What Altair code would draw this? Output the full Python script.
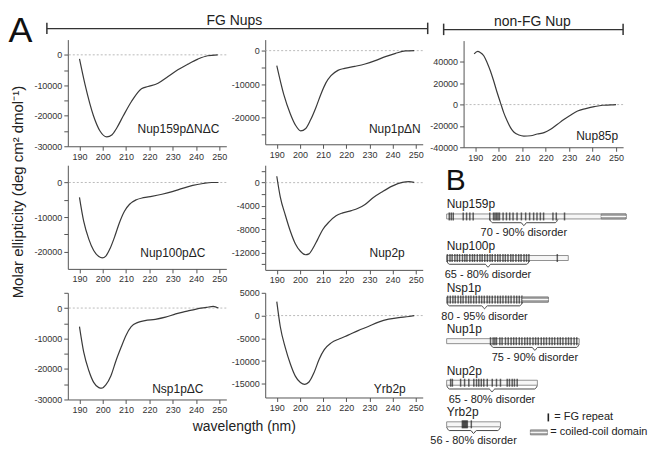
import json
import altair as alt
import pandas as pd

FONT = "Liberation Sans"

# ---------------- CD spectra (wavelength nm, ellipticity) ----------------
nup159_wl = [190, 192.4, 196, 198.8, 201.7, 204, 206, 208.8, 212.3, 216.6, 219.4, 223.7, 228, 232.2, 236.5, 240.8, 245, 249.3]
nup159_val = [-1300, -9800, -20000, -25000, -26900, -26200, -24000, -20000, -15300, -11100, -10400, -9300, -7100, -4900, -3050, -1400, -300, 0]

nup1_wl = [190, 193, 195.9, 198.1, 200.3, 202.5, 204.6, 206.9, 209, 211.2, 213.4, 216.4, 219.3, 223.7, 228.1, 232.5, 236.9, 241.3, 245.6, 249.3]
nup1_val = [-4500, -13100, -19000, -22300, -24000, -23300, -20700, -17000, -13100, -9650, -7500, -5900, -5300, -4700, -4000, -3000, -1800, -800, -100, 0]

nup85_wl = [189.5, 191, 192.1, 193.6, 195, 196.4, 197.9, 199.3, 200.7, 202.1, 203.6, 205, 206.4, 208.6, 210.7, 213.6, 216.4, 219.3, 222.1, 225, 227.9, 230.7, 233.6, 237.1, 240.7, 244.3, 247.9, 250]
nup85_val = [47500, 49800, 48900, 45800, 39500, 31700, 21600, 11300, 1900, -7500, -15400, -21600, -25700, -28500, -29500, -29200, -27600, -26300, -23200, -18500, -13800, -9700, -6000, -3800, -1900, -600, -300, 0]

nup100_wl = [190, 191.8, 194, 196.1, 198.3, 199.8, 201.3, 203.2, 205.2, 207.1, 209.3, 211.5, 214.4, 217.4, 221, 225.4, 229.8, 234.2, 238.6, 243, 246.7, 249.6]
nup100_val = [-4300, -11200, -16400, -19700, -21400, -21800, -21300, -19000, -15500, -11700, -8300, -6300, -5000, -4400, -4000, -3400, -2650, -1700, -850, -300, 0, 0]

nup2_wl = [190, 191.5, 193.7, 195.9, 198, 200.2, 202.4, 203.9, 205.3, 207.6, 209.8, 212.7, 215.6, 218.5, 222.2, 225.1, 228.1, 231.7, 235.4, 239.8, 244.2, 247.1, 249.3]
nup2_val = [1100, -2450, -5600, -8400, -10500, -11800, -12400, -12250, -11500, -9800, -8100, -6700, -5700, -5200, -4800, -4400, -3750, -2550, -1600, -600, 50, 170, 50]

nsp1_wl = [190, 191.8, 194, 196.1, 198.3, 199.5, 201.3, 203.5, 205.7, 207.9, 210, 212.2, 215.1, 218.1, 222.5, 226.9, 231.3, 235.7, 240.1, 244.5, 247.4, 249.6]
nsp1_val = [-6100, -14400, -20500, -24400, -26100, -26300, -25200, -22200, -17200, -12800, -8900, -6100, -4700, -4100, -3700, -3000, -1900, -1100, -330, 200, 550, 0]

yrb2_wl = [190, 191.5, 193.7, 195.9, 198, 200.2, 202.1, 203.9, 206.1, 208.3, 210.5, 213.5, 217.1, 220.8, 225.1, 229.5, 233.9, 238.3, 242.7, 247.1, 249.3]
yrb2_val = [3050, -2400, -7100, -10700, -13300, -14700, -15100, -14600, -12500, -9600, -7500, -6000, -5100, -4300, -3300, -2400, -1450, -800, -450, -200, 0]

x_ticks = [190, 200, 210, 220, 230, 240, 250]

# ---------------- panel B schematic (residue positions) ----------------
b_names = ["Nup159p", "Nup100p", "Nsp1p", "Nup1p", "Nup2p", "Yrb2p"]
b_length = [1440, 976, 816, 1064, 728, 432]
b_dis_start = [346, 0, 0, 352, 0, 0]
b_dis_end = [893, 664, 608, 1064, 728, 432]
b_dis_label = ["70 - 90% disorder", "65 - 80% disorder", "80 - 95% disorder",
               "75 - 90% disorder", "65 - 80% disorder", "56 - 80% disorder"]
b_cc = {"Nup159p": (1240, 1440), "Nsp1p": (608, 816)}
b_fg = {
    "Nup159p": [21, 37, 53, 133, 160, 186, 213, 346, 376, 388, 400, 412, 424, 453, 480, 506, 533,
                565, 600, 634, 666, 698, 725, 752, 778, 853, 880, 946],
    "Nup100p": [6, 27, 44, 66, 85, 104, 127, 146, 163, 186, 207, 224, 246, 267, 285, 306, 327, 348,
                366, 389, 410, 429, 452, 471, 492, 515, 533, 556, 578, 597, 621, 641, 660, 888],
    "Nsp1p": [8, 29, 50, 69, 92, 113, 132, 155, 176, 195, 217, 238, 261, 281, 302, 325, 344, 366,
              389, 410, 431, 452, 475, 496, 517, 541, 562, 583, 604],
    "Nup1p": [352, 373, 387, 400, 427, 445, 472, 494, 517, 538, 559, 583, 604, 627, 648, 669, 693,
              714, 735, 759, 780, 801, 825, 846, 867, 891, 912, 933, 957, 978, 999, 1023, 1044],
    "Nup2p": [32, 46, 112, 144, 178, 218, 240, 258, 278, 298, 326, 366, 400, 432, 486, 504, 526, 544, 566],
    "Yrb2p": [126, 134, 142, 150, 158, 166, 198],
}

one = pd.DataFrame({"k": [0]})


def label_expr(labels, blank=None):
    e = f"indexof({json.dumps(labels)}, datum.value) >= 0 ? '' + datum.value : ''"
    if blank is not None:
        e = f"datum.value == {blank} ? ' ' : ({e})"
    return e


def panel(wl, val, ydom, yticks, ylabels, name, lx, ly, w, h, blank=None):
    df = pd.DataFrame({"wl": wl, "v": val})
    xs = alt.Scale(domain=[185, 253], nice=False, zero=False)
    ys = alt.Scale(domain=ydom, nice=False, zero=False)
    xa = alt.Axis(values=x_ticks, labelExpr="'' + datum.value", title=None)
    ya = alt.Axis(values=yticks, labelExpr=label_expr(ylabels, blank), title=None)
    zero = alt.Chart(pd.DataFrame({"z": [0]})).mark_rule(
        color="#aaaaaa", strokeDash=[2, 2], strokeWidth=0.8
    ).encode(y=alt.Y("z:Q", scale=ys, axis=ya))
    line = alt.Chart(df).mark_line(color="#3a3a3a", strokeWidth=1.2, interpolate="monotone").encode(
        x=alt.X("wl:Q", scale=xs, axis=xa),
        y=alt.Y("v:Q", scale=ys, axis=ya),
    )
    lab = alt.Chart(pd.DataFrame({"t": [name]})).mark_text(
        align="right", baseline="alphabetic", fontSize=12, font=FONT, color="#222"
    ).encode(x=alt.value(lx), y=alt.value(ly), text="t:N")
    return alt.layer(zero, line, lab).properties(width=w, height=h)


p1 = panel(nup159_wl, nup159_val, [-30000, 5000], list(range(-30000, 1, 5000)),
           [0, -10000, -20000, -30000], "Nup159p\u0394N\u0394C", 152, 94, 159, 107)
p2 = panel(nup1_wl, nup1_val, [-28000, 3300], list(range(-25000, 1, 5000)),
           [0, -10000, -20000], "Nup1p\u0394N", 156, 94, 158, 105)
p3 = panel(nup85_wl, nup85_val, [-40000, 60000], [-40000, -20000, 0, 20000, 40000],
           [-40000, -20000, 0, 20000, 40000], "Nup85p", 155, 100, 160, 107)
p4 = panel(nup100_wl, nup100_val, [-25000, 5000], list(range(-20000, 1, 5000)),
           [0, -10000, -20000], "Nup100p\u0394C", 138, 92, 159, 104)
p5 = panel(nup2_wl, nup2_val, [-15000, 3000], list(range(-14000, 2001, 2000)),
           [0, -4000, -8000, -12000], "Nup2p", 140, 92, 158, 105)
p6 = panel(nsp1_wl, nsp1_val, [-30000, 5000], list(range(-30000, 5001, 5000)),
           [0, -10000, -20000, -30000], "Nsp1p\u0394C", 136, 101, 159, 107, blank=5000)
p7 = panel(yrb2_wl, yrb2_val, [-18000, 5000], [-15000, -10000, -5000, 0, 5000],
           [-15000, -10000, -5000, 0, 5000], "Yrb2p", 141, 100, 158, 105)

# ---------------- headers / titles ----------------
def bracket(x0, x1, ly, c0, c1, text, tx, ty, w, h):
    base = alt.Chart(one)
    ln = base.mark_rule(color="#333", strokeWidth=1.5).encode(
        x=alt.value(x0), x2=alt.value(x1), y=alt.value(ly))
    cap0 = base.mark_rule(color="#333", strokeWidth=1.5).encode(
        x=alt.value(x0), y=alt.value(c0), y2=alt.value(c1))
    cap1 = base.mark_rule(color="#333", strokeWidth=1.5).encode(
        x=alt.value(x1), y=alt.value(c0), y2=alt.value(c1))
    txt = alt.Chart(pd.DataFrame({"t": [text]})).mark_text(
        fontSize=14, font=FONT, color="#222", align="center", baseline="alphabetic"
    ).encode(x=alt.value(tx), y=alt.value(ty), text="t:N")
    return alt.layer(ln, cap0, cap1, txt).properties(width=w, height=h)


# the columns line up their plot origins, so header positions are relative to the plot origin
header1 = bracket(-21, 361, 20, 14, 25.5, "FG Nups", 167, 16, 354, 26)
header2 = bracket(-20, 160, 21, 15, 26.5, "non-FG  Nup", 69, 17, 160, 27)

strip_a = alt.Chart(pd.DataFrame({"t": ["A"]})).mark_text(
    fontSize=36, font=FONT, color="#111", align="left", baseline="alphabetic"
).encode(x=alt.value(0.5), y=alt.value(33), text="t:N")
strip_t = alt.Chart(pd.DataFrame({"t": ["Molar  ellipticity  (deg cm\u00b2 dmol\u207b\u00b9)"]})).mark_text(
    fontSize=15, font=FONT, color="#222", align="center", baseline="middle", angle=270
).encode(x=alt.value(10), y=alt.value(184), text="t:N")
strip = alt.layer(strip_a, strip_t).properties(width=24, height=430)

footer = alt.Chart(pd.DataFrame({"t": ["wavelength  (nm)"]})).mark_text(
    fontSize=14, font=FONT, color="#222", align="center", baseline="middle"
).encode(x=alt.value(177), y=alt.value(9), text="t:N").properties(width=354, height=20)

# ---------------- panel B ----------------
BW, BH = 192, 288
px_row = 43.2
d0 = -46 / px_row
bx = alt.Scale(domain=[136, 136 + 8 * BW], nice=False, zero=False)
by = alt.Scale(domain=[d0, d0 + BH / px_row], nice=False, zero=False, reverse=True)

rows = pd.DataFrame({
    "name": b_names, "row": list(range(len(b_names))), "start": [0] * len(b_names),
    "length": b_length, "ds": b_dis_start, "de": b_dis_end, "label": b_dis_label,
})
rows["center"] = (rows["ds"] + rows["de"]) / 2

fg = pd.DataFrame([{"name": n, "row": b_names.index(n), "pos": p} for n in b_names for p in b_fg[n]])
cc = pd.DataFrame([{"name": n, "row": b_names.index(n), "s": v[0], "e": v[1]} for n, v in b_cc.items()])

u = 1 / px_row
brace_pts = []
for i, r in rows.iterrows():
    s, e, m, rr = r["ds"], r["de"], r["center"], r["row"]
    dd = 22
    pts = [(s, rr + 3 * u), (s + dd, rr + 6.5 * u), (m - dd, rr + 6.5 * u), (m, rr + 9.5 * u),
           (m + dd, rr + 6.5 * u), (e - dd, rr + 6.5 * u), (e, rr + 3 * u)]
    for k, (xx, yy) in enumerate(pts):
        brace_pts.append({"name": r["name"], "k": k, "bx": xx, "by": yy})
brace = pd.DataFrame(brace_pts)

X = lambda f: alt.X(f, scale=bx, axis=None)
Y = lambda f: alt.Y(f, scale=by, axis=None)

bars = alt.Chart(rows).mark_bar(size=5, fill="#f6f6f6", stroke="#777", strokeWidth=0.8).encode(
    x=X("start:Q"), x2="length:Q", y=Y("row:Q"))
ticks = alt.Chart(fg).mark_tick(orient="vertical", size=8, thickness=1.5, color="#222").encode(
    x=X("pos:Q"), y=Y("row:Q"))
ccbar = alt.Chart(cc).mark_bar(size=5, fill="#a8a8a8", stroke="#777", strokeWidth=0.8).encode(
    x=X("s:Q"), x2="e:Q", y=Y("row:Q"))
ccline = alt.Chart(cc).mark_rule(color="white", strokeWidth=1).encode(
    x=X("s:Q"), x2="e:Q", y=Y("row:Q"))
braces = alt.Chart(brace).mark_line(color="#333", strokeWidth=0.9, interpolate="monotone").encode(
    x=X("bx:Q"), y=Y("by:Q"), detail="name:N", order="k:Q")
names = alt.Chart(rows).mark_text(align="left", baseline="alphabetic", dy=-8, fontSize=12,
                                  font=FONT, color="#222").encode(
    x=X("start:Q"), y=Y("row:Q"), text="name:N")
dlabels = alt.Chart(rows).mark_text(align="center", baseline="alphabetic", dy=20, fontSize=11,
                                    font=FONT, color="#222").encode(
    x=X("center:Q"), y=Y("row:Q"), text="label:N")

b_letter = alt.Chart(pd.DataFrame({"t": ["B"]})).mark_text(
    fontSize=30, font=FONT, color="#111", align="left", baseline="alphabetic"
).encode(x=alt.value(-18), y=alt.value(23), text="t:N")
leg_tick = alt.Chart(one).mark_rule(color="#222", strokeWidth=1.6).encode(
    x=alt.value(85), y=alt.value(247), y2=alt.value(255))
leg_t1 = alt.Chart(pd.DataFrame({"t": ["=  FG repeat"]})).mark_text(
    fontSize=11, font=FONT, color="#222", align="left", baseline="middle"
).encode(x=alt.value(91), y=alt.value(251), text="t:N")
leg_cc = alt.Chart(one).mark_rect(fill="#a8a8a8", stroke="#777", strokeWidth=0.8).encode(
    x=alt.value(67), x2=alt.value(84), y=alt.value(263.5), y2=alt.value(268.5))
leg_ccl = alt.Chart(one).mark_rule(color="white", strokeWidth=1).encode(
    x=alt.value(67), x2=alt.value(84), y=alt.value(266))
leg_t2 = alt.Chart(pd.DataFrame({"t": ["=  coiled-coil domain"]})).mark_text(
    fontSize=11, font=FONT, color="#222", align="left", baseline="middle"
).encode(x=alt.value(87), y=alt.value(266), text="t:N")

panel_b = alt.layer(bars, ticks, ccbar, ccline, braces, names, dlabels,
                    b_letter, leg_tick, leg_t1, leg_cc, leg_ccl, leg_t2).properties(width=BW, height=BH)

# ---------------- layout ----------------
row1 = alt.hconcat(p1, p2, spacing=3)
row2 = alt.hconcat(p4, p5, spacing=3)
row3 = alt.hconcat(p6, p7, spacing=3)
left_col = alt.vconcat(header1, row1, row2, row3, footer, spacing=4)
right_col = alt.vconcat(header2, p3, panel_b, spacing=4)

chart = alt.hconcat(strip, left_col, right_col, spacing=0).properties(
    padding=0
).configure_view(stroke=None).configure_axis(
    domainColor="#555", tickColor="#555", labelColor="#333", labelFont=FONT,
    labelFontSize=9, tickSize=4, labelPadding=2, grid=False, labelOverlap=False,
    domainWidth=1, tickWidth=1,
)

chart.save("out.html", embed_options={"renderer": "svg", "actions": False})
